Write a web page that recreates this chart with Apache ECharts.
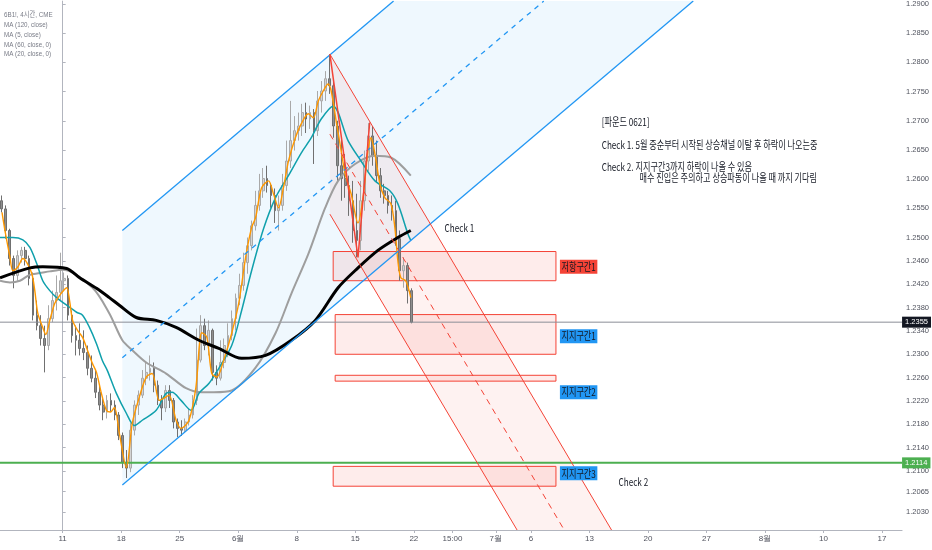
<!DOCTYPE html>
<html><head><meta charset="utf-8">
<script src="https://cdn.jsdelivr.net/npm/echarts/dist/echarts.min.js"></script>
<style>html,body{margin:0;padding:0;background:#fff}#c{width:932px;height:550px}</style>
</head><body><div id="c"></div>
<script>
// ---- axis ticks ----
const tickDays = [0,5,10,15,20,25,30,33.3,37,40,45,50,55,60,65,70];
const tickLabels = ['11','18','25','6월','8','15','22','15:00','7월','6','13','20','27','8월','10','17'];
const priceTicks = [1.2030,1.2065,1.2100,1.2140,1.2180,1.2220,1.2260,1.2300,1.2340,1.2380,1.2420,1.2460,1.2500,1.2550,1.2600,1.2650,1.2700,1.2750,1.2800,1.2850,1.2900];
const legendLines = ['6B1!, 4시간, CME','MA (120, close)','MA (5, close)','MA (60, close, 0)','MA (20, close, 0)'];

// ---- 8h bars, trading-day units (0 = May 11) ----
const barStart = -5.2;
const barStep = 1/3;
// [open, close, low, high]
const candles = [
[1.2563,1.2549,1.2543,1.2572],[1.2549,1.2512,1.2498,1.2555],[1.2512,1.2464,1.2452,1.2515],[1.2464,1.2435,1.2413,1.2469],
[1.2435,1.2469,1.2426,1.2478],[1.2469,1.2478,1.2457,1.2484],[1.2478,1.2464,1.2452,1.2484],[1.2464,1.2430,1.2418,1.2469],
[1.2430,1.2367,1.2358,1.2440],[1.2367,1.2349,1.2341,1.2392],[1.2349,1.2327,1.2315,1.2367],[1.2327,1.2315,1.2269,1.2349],
[1.2315,1.2361,1.2307,1.2384],[1.2361,1.2392,1.2355,1.2409],[1.2392,1.2406,1.2375,1.2435],[1.2406,1.2426,1.2392,1.2474],
[1.2426,1.2430,1.2409,1.2440],[1.2430,1.2367,1.2358,1.2435],[1.2367,1.2332,1.2320,1.2375],[1.2332,1.2324,1.2298,1.2349],
[1.2324,1.2310,1.2298,1.2353],[1.2310,1.2303,1.2290,1.2341],[1.2303,1.2276,1.2264,1.2315],[1.2276,1.2259,1.2252,1.2298],
[1.2259,1.2235,1.2225,1.2273],[1.2235,1.2213,1.2204,1.2247],[1.2213,1.2201,1.2187,1.2225],[1.2201,1.2221,1.2190,1.2230],
[1.2221,1.2213,1.2201,1.2233],[1.2213,1.2196,1.2187,1.2221],[1.2196,1.2161,1.2153,1.2201],[1.2161,1.2115,1.2105,1.2166],
[1.2115,1.2105,1.2088,1.2136],[1.2105,1.2170,1.2098,1.2182],[1.2170,1.2213,1.2161,1.2221],[1.2213,1.2230,1.2196,1.2238],
[1.2230,1.2259,1.2225,1.2273],[1.2259,1.2269,1.2247,1.2286],[1.2269,1.2276,1.2255,1.2298],[1.2276,1.2247,1.2235,1.2286],
[1.2247,1.2221,1.2213,1.2255],[1.2221,1.2208,1.2187,1.2230],[1.2208,1.2238,1.2201,1.2247],[1.2238,1.2221,1.2208,1.2247],
[1.2221,1.2184,1.2173,1.2225],[1.2184,1.2173,1.2158,1.2190],[1.2173,1.2170,1.2160,1.2187],[1.2170,1.2184,1.2166,1.2190],
[1.2184,1.2196,1.2178,1.2208],[1.2196,1.2221,1.2190,1.2230],[1.2221,1.2290,1.2213,1.2344],[1.2290,1.2349,1.2286,1.2367],
[1.2349,1.2315,1.2307,1.2361],[1.2315,1.2341,1.2298,1.2358],[1.2341,1.2269,1.2255,1.2344],[1.2269,1.2259,1.2247,1.2281],
[1.2259,1.2286,1.2255,1.2324],[1.2286,1.2315,1.2276,1.2327],[1.2315,1.2332,1.2295,1.2353],[1.2332,1.2361,1.2324,1.2375],
[1.2361,1.2396,1.2341,1.2404],[1.2396,1.2418,1.2384,1.2438],[1.2418,1.2457,1.2409,1.2474],[1.2457,1.2486,1.2438,1.2500],
[1.2486,1.2520,1.2478,1.2529],[1.2520,1.2555,1.2512,1.2580],[1.2555,1.2580,1.2546,1.2609],[1.2580,1.2601,1.2568,1.2619],
[1.2601,1.2589,1.2577,1.2623],[1.2589,1.2572,1.2551,1.2592],[1.2572,1.2546,1.2525,1.2584],[1.2546,1.2555,1.2512,1.2572],
[1.2555,1.2589,1.2546,1.2609],[1.2589,1.2631,1.2580,1.2666],[1.2631,1.2666,1.2619,1.2734],[1.2666,1.2683,1.2649,1.2708],
[1.2683,1.2691,1.2666,1.2714],[1.2691,1.2714,1.2674,1.2729],[1.2714,1.2703,1.2679,1.2731],[1.2703,1.2714,1.2686,1.2726],
[1.2714,1.2683,1.2626,1.2720],[1.2683,1.2734,1.2674,1.2751],[1.2734,1.2751,1.2714,1.2768],[1.2751,1.2772,1.2734,1.2785],
[1.2772,1.2760,1.2746,1.2814],[1.2760,1.2691,1.2671,1.2768],[1.2691,1.2623,1.2597,1.2700],[1.2623,1.2601,1.2563,1.2671],
[1.2601,1.2589,1.2568,1.2643],[1.2589,1.2563,1.2537,1.2606],[1.2563,1.2512,1.2491,1.2597],[1.2512,1.2495,1.2466,1.2575],
[1.2495,1.2563,1.2478,1.2597],[1.2563,1.2631,1.2546,1.2649],[1.2631,1.2674,1.2614,1.2696],[1.2674,1.2640,1.2623,1.2691],
[1.2640,1.2606,1.2594,1.2666],[1.2606,1.2580,1.2568,1.2619],[1.2580,1.2572,1.2558,1.2592],[1.2572,1.2555,1.2541,1.2580],
[1.2555,1.2546,1.2529,1.2572],[1.2546,1.2498,1.2486,1.2563],[1.2498,1.2443,1.2426,1.2512],[1.2443,1.2452,1.2414,1.2466],
[1.2452,1.2409,1.2387,1.2457],[1.2409,1.2355,1.2353,1.2413]
];

// ---- moving averages: [day, price] ----
const ma120 = [[-5.35,1.2431],[-2.8,1.2448],[-1.7,1.2450],[0.34,1.2447],[1.45,1.2431],[2.89,1.2413],[3.99,1.2397],[4.84,1.2384],[6.29,1.2363],[7.99,1.2358],[9.69,1.2346],[11.64,1.2324],[13.34,1.2310],[15.29,1.2293],[17.33,1.2298],[19.54,1.2324],[21.58,1.2358],[23.53,1.2414],[25.23,1.2448],[26.93,1.2478],[28.63,1.2500],[29.74,1.2512]];
const ma60 = [[-5.35,1.2426],[-4.5,1.2423],[-3.65,1.2426],[-2.8,1.2436],[-1.1,1.2442],[0,1.2445],[2.55,1.2414],[3.99,1.2370],[5.10,1.2324],[5.95,1.2307],[7.14,1.2286],[8.84,1.2267],[10.54,1.2242],[11.90,1.2235],[12.91,1.2235],[14.44,1.2238],[16.48,1.2277],[18.18,1.2336],[19.54,1.2404],[20.99,1.2472],[22.43,1.2551],[23.53,1.2597],[24.98,1.2626],[26.68,1.2640],[28.04,1.2637],[29.74,1.2606]];
const ma20 = [[-5.35,1.2500],[-4.25,1.2500],[-3.40,1.2496],[-2.80,1.2483],[-2.21,1.2455],[-1.70,1.2426],[-1.10,1.2409],[-0.51,1.2397],[0.34,1.2384],[1.19,1.2372],[1.70,1.2367],[2.29,1.2346],[2.89,1.2318],[3.40,1.2289],[3.82,1.2272],[4.59,1.2233],[5.44,1.2199],[6.12,1.2178],[6.80,1.2187],[7.99,1.2204],[8.84,1.2233],[9.35,1.2235],[10.11,1.2221],[10.96,1.2204],[11.64,1.2233],[12.49,1.2250],[13.34,1.2276],[14.44,1.2315],[15.29,1.2375],[16.14,1.2443],[17.16,1.2515],[18.18,1.2568],[19.29,1.2606],[20.39,1.2645],[21.24,1.2671],[22.09,1.2703],[23.11,1.2725],[24.38,1.2666],[25.49,1.2631],[26.68,1.2597],[27.95,1.2580],[28.63,1.2558],[29.48,1.2507],[29.74,1.2495]];
const ma5 = [[-5.18,1.2543],[-4.93,1.2512],[-4.50,1.2466],[-4.25,1.2443],[-3.82,1.2450],[-3.40,1.2464],[-3.06,1.2457],[-2.63,1.2438],[-2.38,1.2409],[-2.12,1.2370],[-1.70,1.2346],[-1.44,1.2334],[-1.10,1.2358],[-0.68,1.2387],[-0.25,1.2401],[0.34,1.2414],[0.59,1.2392],[0.85,1.2358],[1.27,1.2341],[1.70,1.2329],[2.12,1.2307],[2.55,1.2284],[2.89,1.2269],[3.31,1.2233],[3.74,1.2204],[4.08,1.2201],[4.42,1.2209],[4.84,1.2165],[5.44,1.2106],[5.95,1.2182],[6.54,1.2226],[7.14,1.2261],[7.65,1.2267],[8.24,1.2221],[8.67,1.2225],[9.09,1.2230],[9.69,1.2187],[10.11,1.2173],[10.79,1.2187],[11.38,1.2243],[11.89,1.2337],[12.32,1.2329],[12.74,1.2267],[13.17,1.2261],[13.76,1.2290],[14.44,1.2336],[15.04,1.2387],[15.63,1.2466],[16.14,1.2517],[16.48,1.2534],[16.99,1.2585],[17.59,1.2597],[18.01,1.2575],[18.44,1.2551],[18.86,1.2585],[19.29,1.2631],[19.88,1.2671],[20.39,1.2695],[20.99,1.2712],[21.41,1.2705],[21.84,1.2734],[22.26,1.2751],[22.68,1.2763],[22.94,1.2751],[23.36,1.2700],[23.79,1.2649],[24.13,1.2609],[24.64,1.2575],[25.23,1.2525],[25.66,1.2568],[26.08,1.2649],[26.34,1.2671],[26.68,1.2643],[27.10,1.2592],[27.53,1.2568],[28.04,1.2558],[28.38,1.2517],[28.63,1.2461],[28.89,1.2431],[29.31,1.2426],[29.74,1.2397]];

// ---- drawings: [day, price] anchors ----
const blueUpper = [[5.10,1.2512],[28.27,1.2905]];
const blueMid = [[5.10,1.2294],[41.10,1.2905]];
const blueLower = [[5.10,1.2076],[53.87,1.2905]];
const redUpper = [[22.83,1.2814],[46.89,1.1999]];
const redMid = [[22.83,1.2677],[42.85,1.1999]];
const redLower = [[22.83,1.2540],[38.82,1.1999]];
const redZigzag = [[22.83,1.2814],[25.23,1.2466],[26.23,1.2697]];
const levelPrices = [1.2355, 1.2114];
const levelColors = ['#131722', '#4caf50'];
const levelLineColors = ['#8a8d96', '#4caf50'];
const levelWidths = [1, 2];

const zoneNames = ['저항구간1','지지구간1','지지구간2','지지구간3'];
const zoneFrom = [23.11,23.28,23.28,23.11];
const zoneTo = [42.14,42.14,42.14,42.14];
const zoneHigh = [1.2476,1.2368,1.2264,1.2108];
const zoneLow = [1.2426,1.2300,1.2254,1.2074];
const zoneLabelDay = 42.48;
const zoneLabelPrice = [1.2450,1.2331,1.2235,1.2096];
const zoneLabelColor = ['#f44336','#2196f3','#2196f3','#2196f3'];

const noteTexts = ['Check 1','Check 2','[파운드 0621]','Check 1. 5월 중순부터 시작된 상승채널 이탈 후 하락이 나오는중','Check 2. 지지구간3까지 하락이 나올 수 있음','매수 진입은 주의하고 상승파동이 나올 때 까지 기다림'];
const noteDays = [32.63,47.49,46.05,46.05,46.05,49.28];
const notePrices = [1.2517,1.2081,1.2698,1.2659,1.2621,1.2602];

// ---- chart ----
const X_MIN = -5.3526, X_MAX = 71.708, Y_MIN = 1.1999, Y_MAX = 1.2905;
const FONT = '"Noto Sans CJK KR","Noto Sans",sans-serif';
const AXFONT = '"Liberation Sans Narrow","Liberation Sans",sans-serif';
const fillPolys = [
  [blueUpper[0], blueUpper[1], blueLower[1], blueLower[0]],
  [redUpper[0], redUpper[1], redLower[1], redLower[0]]
];
const fillColors = ['rgba(33,150,243,0.07)','rgba(244,67,54,0.07)'];

function txt(x, y, text, o) {
  return {type:'text', x:x, y:y, scaleX:o.scaleX||1,
    style:{text:text, fill:o.fill||'#131722', fontSize:o.fontSize, fontFamily:o.fontFamily||FONT,
      align:'left', verticalAlign:'middle', textAlign:'left', textVerticalAlign:'middle',
      backgroundColor:o.bg, padding:o.padding}};
}

const chart = echarts.init(document.getElementById('c'), null, {renderer:'canvas'});
const trend = (name, data, color, width, type) => ({
  type:'line', name:name, data:data, z:4, silent:true, showSymbol:false, symbol:'none',
  lineStyle:{color:color, width:width, type:type||'solid'}, animation:false
});
const maLine = (name, data, color, width) => ({
  type:'line', name:name, data:data, z:3, silent:true, showSymbol:false, symbol:'none', smooth:0.3,
  lineStyle:{color:color, width:width}, animation:false
});

const levelSeries = levelPrices.map((p,i)=>({
  type:'line', name:'level'+i, z:3, silent:true, symbol:'none', showSymbol:false, animation:false,
  data:[[X_MIN,p],[X_MAX,p]], lineStyle:{color:levelLineColors[i], width:levelWidths[i]}
}));

chart.setOption({
  animation:false,
  backgroundColor:'#ffffff',
  grid:{left:0, right:25, top:0, bottom:20, containLabel:false},
  xAxis:{type:'value', min:X_MIN, max:X_MAX,
    axisLine:{show:true, lineStyle:{color:'#b2b5be', width:1}},
    axisTick:{show:true, customValues:tickDays, length:3, lineStyle:{color:'#b2b5be'}},
    axisLabel:{show:true, customValues:tickDays, fontSize:8, color:'#50535e', fontFamily:AXFONT, margin:5,
      formatter:(v)=>{ const i = tickDays.findIndex(t=>Math.abs(t-v)<1e-6); return i>=0 ? tickLabels[i] : ''; }},
    splitLine:{show:false}},
  yAxis:{type:'value', position:'right', min:Y_MIN, max:Y_MAX,
    axisLine:{show:true, lineStyle:{color:'#b2b5be', width:1}},
    axisTick:{show:true, customValues:priceTicks, length:3, inside:false, lineStyle:{color:'#b2b5be'}},
    axisLabel:{show:true, customValues:priceTicks, fontSize:7.5, color:'#50535e', fontFamily:AXFONT, margin:4,
      formatter:(v)=>v.toFixed(4)},
    splitLine:{show:false}},
  graphic: legendLines.map((t,i)=>({type:'text', x:4, y:15+i*9.8, scaleX:0.78, silent:true,
    style:{text:t, fill:'#787b86', fontSize:8, fontFamily:'"Liberation Sans","Noto Sans CJK KR",sans-serif',
      align:'left', verticalAlign:'middle', textAlign:'left', textVerticalAlign:'middle'}})),
  series:[
    {type:'custom', name:'fills', z:1, silent:true, animation:false,
     data: fillPolys.map(p=>[p[0][0], p[0][1]]),
     renderItem:(params, api)=>({type:'polygon',
       shape:{points: fillPolys[params.dataIndex].map(p=>api.coord(p))},
       style:{fill: fillColors[params.dataIndex]}})},
    {type:'custom', name:'zones', z:1, silent:true, animation:false,
     data: zoneNames.map((n,i)=>[zoneFrom[i], zoneHigh[i]]),
     renderItem:(params, api)=>{
       const i = params.dataIndex;
       const a = api.coord([zoneFrom[i], zoneHigh[i]]);
       const b = api.coord([zoneTo[i], zoneLow[i]]);
       return {type:'rect', shape:{x:a[0], y:a[1], width:b[0]-a[0], height:b[1]-a[1]},
         style:{fill:'rgba(244,67,54,0.10)', stroke:'#f44336', lineWidth:1}};
     }},
    {type:'candlestick', name:'6B1!', z:2, silent:true, animation:false, barWidth:2.2,
     encode:{x:0, y:[1,2,3,4]},
     data: candles.map((c,i)=>[barStart + i*barStep, c[0], c[1], c[2], c[3]]),
     itemStyle:{color:'#d4d4d4', color0:'#8f8f8f', borderColor:'#a9a9a9', borderColor0:'#707070', borderWidth:1}},
    ...levelSeries,
    maLine('MA (60, close, 0)', ma60, '#9e9e9e', 2),
    maLine('MA (20, close, 0)', ma20, '#10a0ac', 1.5),
    maLine('MA (5, close)', ma5, '#ff9800', 1.4),
    maLine('MA (120, close)', ma120, '#000000', 3),
    trend('blueUpper', blueUpper, '#2196f3', 1.3),
    trend('blueMid', blueMid, '#2196f3', 1.3, [5,5]),
    trend('blueLower', blueLower, '#2196f3', 1.3),
    trend('redUpper', redUpper, '#f44336', 1),
    trend('redMid', redMid, '#f44336', 1, [6,5]),
    trend('redLower', redLower, '#f44336', 1),
    trend('redZigzag', redZigzag, '#f44336', 1.5),
    {type:'custom', name:'levelLabels', z:7, silent:true, animation:false,
     data: levelPrices.map(p=>[X_MAX, p]),
     renderItem:(params, api)=>{
       const i = params.dataIndex;
       const p = api.coord([X_MAX, levelPrices[i]]);
       return txt(p[0], p[1], levelPrices[i].toFixed(4),
         {fontSize:7.5, fontFamily:AXFONT, bg:levelColors[i], padding:[2,3,1,3], fill:'#ffffff'});
     }},
    {type:'custom', name:'zoneLabels', z:6, silent:true, animation:false,
     data: zoneNames.map((n,i)=>[zoneLabelDay, zoneLabelPrice[i]]),
     renderItem:(params, api)=>{
       const i = params.dataIndex;
       const p = api.coord([zoneLabelDay, zoneLabelPrice[i]]);
       return txt(p[0], p[1], zoneNames[i], {fontSize:11, scaleX:0.74, bg:zoneLabelColor[i], padding:[2,2,1,2], fill:'#131722'});
     }},
    {type:'custom', name:'notes', z:6, silent:true, animation:false,
     data: noteTexts.map((t,i)=>[noteDays[i], notePrices[i]]),
     renderItem:(params, api)=>{
       const i = params.dataIndex;
       const p = api.coord([noteDays[i], notePrices[i]]);
       return txt(p[0], p[1], noteTexts[i], {fontSize:11, scaleX:0.74});
     }}
  ]
});
</script></body></html>
